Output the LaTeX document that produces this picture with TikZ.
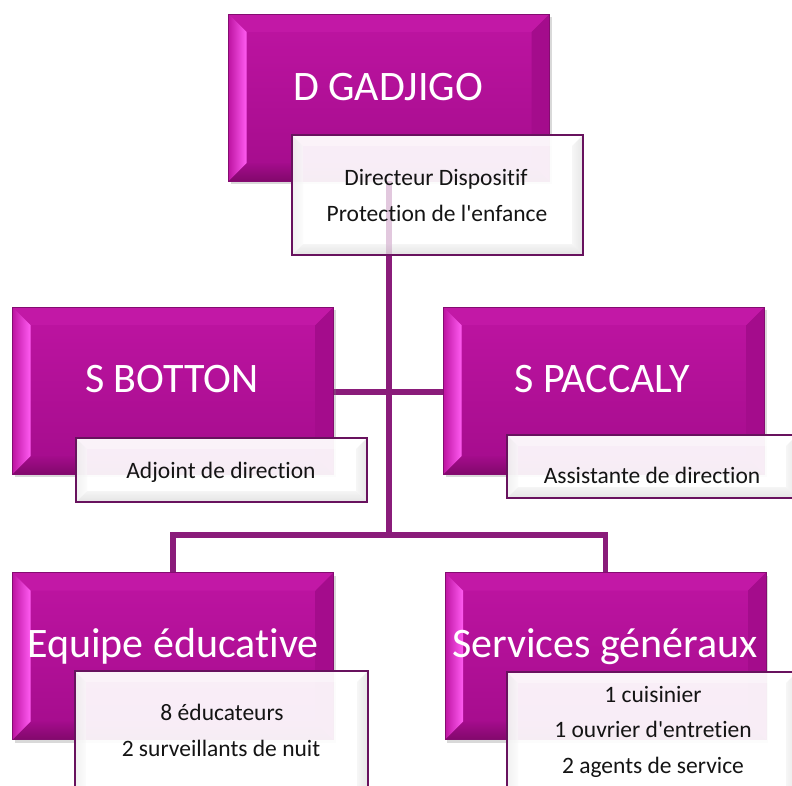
\documentclass[tikz,border=0pt]{standalone}
\usepackage{fontspec}
\setmainfont{Carlito}[Ligatures={TeXOff,NoCommon}]
\usetikzlibrary{calc,shadows}
\definecolor{magA}{RGB}{190,20,162}
\definecolor{magB}{RGB}{164,12,140}
\definecolor{magTop}{RGB}{194,24,166}
\definecolor{magLite}{RGB}{255,92,242}
\definecolor{magPink}{RGB}{222,70,206}
\definecolor{magDark}{RGB}{130,8,108}
\definecolor{magEdge}{RGB}{132,12,112}
\definecolor{connC}{RGB}{138,28,122}
\definecolor{wEdge}{RGB}{104,18,94}
\def\bv{18pt}
\def\wv{11pt}
\newcommand\corners{%
  \coordinate (pNW) at (path picture bounding box.north west);
  \coordinate (pNE) at (path picture bounding box.north east);
  \coordinate (pSW) at (path picture bounding box.south west);
  \coordinate (pSE) at (path picture bounding box.south east);}
\newcommand\magbevel{%
  \corners
  \fill[magTop] (pNW) -- (pNE) -- ($(pNE)+(-\bv,-\bv)$) -- ($(pNW)+(\bv,-\bv)$) -- cycle;
  \shade[top color=magB, bottom color=magDark] ($(pSW)+(\bv,\bv)$) -- ($(pSE)+(-\bv,\bv)$) -- (pSE) -- (pSW) -- cycle;
  \shade[left color=magA, middle color=magA!70!magLite, right color=magLite] (pNW) -- ($(pNW)+(\bv,-\bv)$) -- ($(pSW)+(\bv,\bv)$) -- (pSW) -- cycle;
  \shade[left color=magB, middle color=magPink, right color=magB] (pNE) -- ($(pNE)+(-\bv,-\bv)$) -- ($(pSE)+(-\bv,\bv)$) -- (pSE) -- cycle;}
\newcommand\whbevel{%
  \corners
  \fill[white, fill opacity=0.35] (pNW) -- (pNE) -- ($(pNE)+(-\wv,-\wv)$) -- ($(pNW)+(\wv,-\wv)$) -- cycle;
  \shade[top color=black!6, bottom color=black!18, fill opacity=0.6] ($(pSW)+(\wv,\wv)$) -- ($(pSE)+(-\wv,\wv)$) -- (pSE) -- (pSW) -- cycle;
  \shade[left color=black!10, right color=black!2, fill opacity=0.5] (pNW) -- ($(pNW)+(\wv,-\wv)$) -- ($(pSW)+(\wv,\wv)$) -- (pSW) -- cycle;
  \shade[left color=black!5, right color=black!16, fill opacity=0.6] (pNE) -- ($(pNE)+(-\wv,-\wv)$) -- ($(pSE)+(-\wv,\wv)$) -- (pSE) -- cycle;}
\tikzset{
  magbox/.style={draw=magEdge, line width=0.8pt, top color=magA, bottom color=magB,
    minimum width=321pt, minimum height=167pt, inner sep=0pt,
    drop shadow={shadow xshift=2pt, shadow yshift=-3pt, opacity=0.3},
    path picture={\magbevel}},
  whbox/.style={draw=wEdge, line width=1.8pt, fill=white, fill opacity=0.93, inner sep=0pt,
    minimum width=291pt, path picture={\whbevel}},
  sizebox/.style={minimum width=321pt, minimum height=167pt, inner sep=0pt},
  conn/.style={draw=connC, line width=5.5pt},
  titletext/.style={anchor=base, text=white, inner sep=0pt, font=\fontsize{42}{50}\selectfont},
  subtext/.style={anchor=base, text=black!92, inner sep=0pt, font=\fontsize{23.5}{28}\selectfont}
}
\begin{document}
\begin{tikzpicture}[x=1pt, y=-1pt]
\useasboundingbox (0,0) rectangle (792,785);
\clip (0,0) rectangle (792,785);
\coordinate (bus) at (389,535);
\path (389,97.5) coordinate (c1) (173,390.5) coordinate (c2) (604,390.5) coordinate (c3)
      (173,656) coordinate (c4) (605.5,656) coordinate (c5);
% frames used to route the connectors (behind the boxes)
\node[sizebox] (m1) at (c1) {};
\node[sizebox] (m2) at (c2) {};
\node[sizebox] (m3) at (c3) {};
\node[sizebox] (m4) at (c4) {};
\node[sizebox] (m5) at (c5) {};
\draw[conn] (m1.south) -- (m1.south |- bus);
\draw[conn] ($(m2.east)+(0,1.5)$) -- ($(m3.west)+(0,1.5)$);
\draw[conn] (m4.north) |- (bus) -| (m5.north);
% magenta boxes
\node[magbox] (b1) at (c1) {};
\node[magbox] (b2) at (c2) {};
\node[magbox] (b3) at (c3) {};
\node[magbox] (b4) at (c4) {};
\node[magbox] (b5) at (c5) {};
\node[titletext] (t1) at (388,100) {D GADJIGO};
\node[titletext] (t2) at (172,392) {S BOTTON};
\node[titletext] (t3) at (602,392) {S PACCALY};
\node[titletext] (t4) at (173,657) {Equipe éducative};
\node[titletext] (t5) at (605,657) {Services généraux};
% white boxes
\node[whbox, minimum height=120pt] (w1) at (437.5,195) {};
\node[whbox, minimum height=64pt] (w2) at (221.5,470) {};
\node[whbox, minimum height=63pt, minimum width=290pt] (w3) at (652,466.5) {};
\node[whbox, minimum height=130pt, minimum width=293pt] (w4) at (221.5,736) {};
\node[whbox, minimum height=138pt, minimum width=290pt] (w5) at (652,741) {};
% connector seen faintly through the top white box
\draw[conn, draw opacity=0.18] (m1.south) -- (m1.south |- w1.south);
% sub texts
\node[subtext] (s1a) at (436,185) {Directeur Dispositif};
\node[subtext] (s1b) at (437,221) {Protection de l'enfance};
\node[subtext] (s2) at (221,478) {Adjoint de direction};
\node[subtext] (s3) at (652,483) {Assistante de direction};
\node[subtext] (s4a) at (222,720) {8 éducateurs};
\node[subtext] (s4b) at (221,756) {2 surveillants de nuit};
\node[subtext] (s5a) at (653,702) {1 cuisinier};
\node[subtext] (s5b) at (653,737) {1 ouvrier d'entretien};
\node[subtext] (s5c) at (653,773) {2 agents de service};
\end{tikzpicture}
\end{document}
